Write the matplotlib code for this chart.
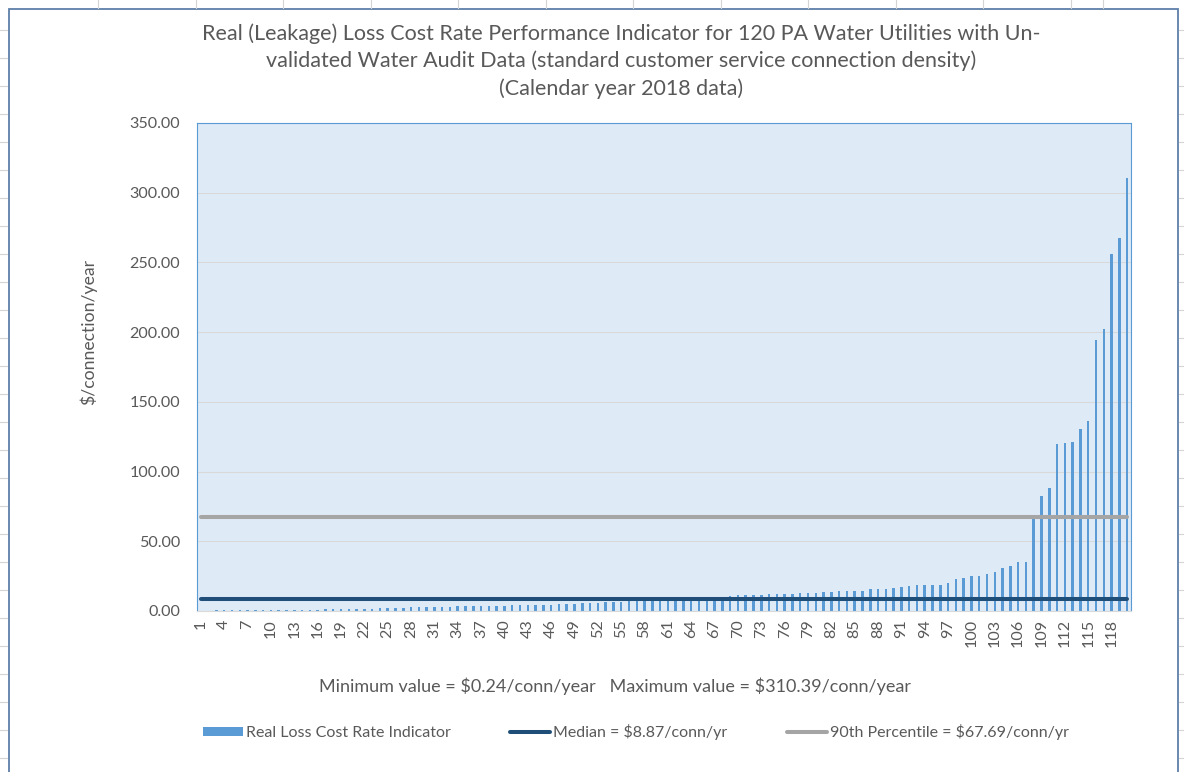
import numpy as np
import matplotlib
matplotlib.use("Agg")
import matplotlib.pyplot as plt
from matplotlib.lines import Line2D
from matplotlib.patches import Rectangle

plt.rcParams['font.family'] = ['Lato', 'DejaVu Sans']
plt.rcParams['text.parse_math'] = False

# valores ($/conexao/ano), ja ordenados
cost_rate = [0.24, 0.30, 0.36, 0.42, 0.48, 0.52, 0.58, 0.64,
             0.70, 0.72, 0.75, 0.80, 0.82, 0.98, 1.00, 1.02, 1.20, 1.38,
             1.48, 1.50, 1.52, 1.60, 1.70, 1.98, 2.20, 2.45, 2.50, 2.58,
             2.62, 2.80, 3.10, 3.18, 3.22, 3.28, 3.30, 3.32, 3.34, 3.40,
             3.42, 3.50, 4.00, 4.10, 4.55, 4.58, 4.60, 4.62, 4.70, 4.80,
             5.30, 5.40,
             5.6, 5.9, 6.2, 6.5, 6.8, 7.1, 7.4, 7.7, 8.1, 8.6,
             9.14, 9.3, 9.4, 9.5, 9.6, 9.7, 9.8, 10.0,
             11.1, 11.2, 11.2, 11.5, 11.5, 12.2, 12.2, 12.2, 12.4, 12.9,
             12.9, 12.9, 13.6, 13.6, 14.3, 14.3, 14.3, 14.3, 15.8, 15.8,
             15.8, 16.5, 17.2, 17.9, 18.7, 18.7, 18.7, 18.7, 20.1, 23.0,
             23.9, 24.9, 25.3, 26.8, 27.7,
             30.6, 32.3, 35.1, 35.2, 66.0, 82.7, 88.0, 120.0, 120.8,
             121.5, 130.6, 136.3, 194.4, 202.5, 256.1, 267.4, 310.39]
utility = np.arange(1, len(cost_rate) + 1)
median_val = 8.87
p90_val = 67.69
y_ticks = [0, 50, 100, 150, 200, 250, 300, 350]

W, H = 1184, 772
fig = plt.figure(figsize=(W / 100, H / 100), dpi=100)

def fx(x):
    return x / W

def fy(y):
    return 1 - y / H

# moldura do grafico e grade da planilha ao fundo
grid_c = '#D4D4D4'
for y in np.arange(30, H, 28):
    fig.add_artist(Line2D([0, fx(7)], [fy(y), fy(y)], color=grid_c, lw=0.8))
    fig.add_artist(Line2D([fx(1179), 1], [fy(y), fy(y)], color=grid_c, lw=0.8))
for x in [98, 196, 283, 371, 458, 546, 633, 721, 808, 896, 983, 1071, 1103]:
    fig.add_artist(Line2D([fx(x), fx(x)], [fy(0), fy(8)], color=grid_c, lw=0.8))
fig.add_artist(Rectangle((fx(9), fy(H + 5)), fx(1178) - fx(9), fy(9) - fy(H + 5),
                         transform=fig.transFigure, fill=False,
                         edgecolor='#5E7FA8', lw=1.3))

ax = fig.add_axes([fx(197), fy(611), fx(1131) - fx(197), fy(123) - fy(611)])
ax.set_facecolor('#DEEAF6')
bars = ax.bar(utility, cost_rate, width=0.32, color='#5B9BD5', zorder=2)
med_line, = ax.plot(utility, [median_val] * len(utility), color='#1F4E79', lw=2.9,
                    solid_capstyle='round', zorder=3)
p90_line, = ax.plot(utility, [p90_val] * len(utility), color='#A5A5A5', lw=2.9,
                    solid_capstyle='round', zorder=3)

ax.set_xlim(0.5, len(utility) + 0.5)
ax.set_ylim(0, 350)
ax.set_yticks(y_ticks)
ax.set_yticklabels([f"{v:.2f}" for v in y_ticks])
ax.set_xticks(utility[::3])
ax.set_xticklabels([str(i) for i in utility[::3]], rotation=90)
ax.tick_params(axis='y', length=0, pad=12, labelsize=11.6, labelcolor='#595959')
ax.tick_params(axis='x', length=0, pad=6, labelsize=11.6, labelcolor='#595959')
ax.yaxis.grid(True, color='#D9D9D9', lw=0.8, zorder=0)
ax.set_axisbelow(True)
for side in ['left', 'top', 'right']:
    ax.spines[side].set_color('#5B9BD5')
ax.spines['bottom'].set_color('#D9D9D9')

fig.text(fx(621), fy(61),
         "Real (Leakage) Loss Cost Rate Performance Indicator for 120 PA Water Utilities with Un-\n"
         "validated Water Audit Data (standard customer service connection density)\n"
         "(Calendar year 2018 data)",
         ha='center', va='center', fontsize=15.5, color='#595959', linespacing=1.42)
fig.text(fx(88), fy(332), "$/connection/year", rotation=90, ha='center', va='center',
         fontsize=12.7, color='#595959')
fig.text(fx(615), fy(686),
         "Minimum value = $0.24/conn/year   Maximum value = $310.39/conn/year",
         ha='center', va='center', fontsize=13, color='#595959')

fig.legend([bars, med_line, p90_line],
           ['Real Loss Cost Rate Indicator', 'Median = $8.87/conn/yr',
            '90th Percentile = $67.69/conn/yr'],
           loc='center', bbox_to_anchor=(fx(636), fy(732)), ncol=3, frameon=False,
           fontsize=11.5, labelcolor='#595959', handlelength=2.5, handletextpad=0.2,
           columnspacing=3.7, handleheight=0.5)

fig.savefig("out.png", dpi=100)
plt.close()
